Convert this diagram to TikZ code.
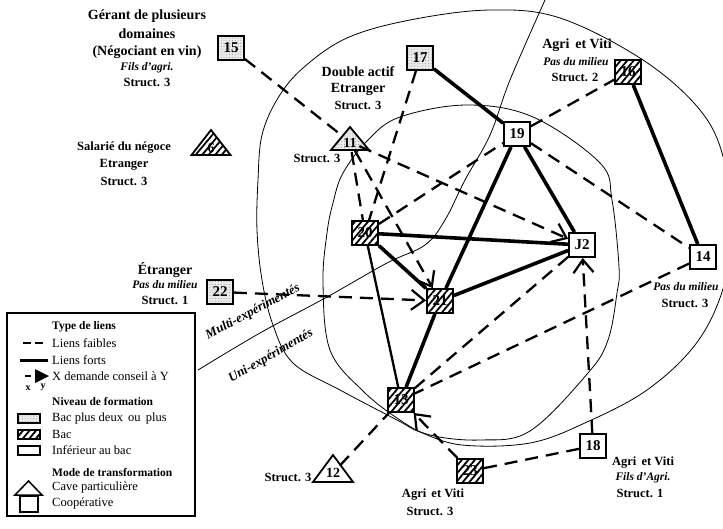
\documentclass[tikz,border=0pt]{standalone}
\usepackage{fontspec}
\setmainfont{Liberation Serif}
\usetikzlibrary{arrows.meta,patterns.meta}
\tikzset{
  sq/.style={draw, line width=1.8pt, minimum width=26pt, minimum height=24pt, inner sep=0pt,
    font=\bfseries\fontsize{15}{15}\selectfont},
  plain/.style={fill=white},
  dotf/.style={preaction={fill=black!8}, pattern={Dots[radius=0.45pt,distance=2.8pt]}, pattern color=black!50},
  hatf/.style={preaction={fill=white}, pattern={Lines[angle=50,distance=5pt,line width=1.8pt]}},
  trib/.style={circle, minimum size=20pt, inner sep=0pt},
  tridraw/.style={line width=1.8pt, line join=miter},
  trinum/.style={font=\bfseries\fontsize{14}{14}\selectfont, inner sep=0pt},
  weak/.style={line width=2.3pt, dash pattern=on 13pt off 8pt},
  strong/.style={line width=3.6pt},
  medium/.style={line width=2.3pt},
  tip/.style={-{Straight Barb[length=13pt,width=20pt,line width=2.2pt]}},
  ring/.style={line width=0.8pt},
  lbig/.style={font=\bfseries\fontsize{14}{14}\selectfont, inner sep=0pt},
  lmed/.style={font=\bfseries\fontsize{12.5}{12.5}\selectfont, inner sep=0pt},
  lit/.style={font=\bfseries\itshape\fontsize{11.5}{11.5}\selectfont, inner sep=0pt},
  ldiv/.style={font=\bfseries\itshape\fontsize{13}{13}\selectfont, inner sep=0pt},
  legh/.style={anchor=west, font=\bfseries\fontsize{11.5}{11.5}\selectfont, inner sep=0pt},
  legi/.style={anchor=west, font=\fontsize{12.5}{12.5}\selectfont, inner sep=0pt},
}
\begin{document}
\begin{tikzpicture}[x=1pt, y=-1pt]
\useasboundingbox (0,0) rectangle (723,528);
\fill[white] (0,0) rectangle (723,528);

% ---- rings and divider ----
\draw[ring] plot[smooth cycle, tension=0.6] coordinates {(490,10) (560,18) (643,60) (700,110) (724,160) (732,230) (722,292) (695,345) (647,390) (587,422) (530,443) (462,445) (420,432) (397,420) (340,390) (293,363) (273,325) (262,280) (257,230) (258,180) (262,135) (278,98) (303,68) (347,38) (410,20)};
\draw[ring] plot[smooth cycle, tension=0.6] coordinates {(467,105) (533,117) (600,163) (612,200) (619,267) (617,293) (608,340) (588,373) (530,431) (480,440) (430,435) (400,420) (363,391) (330,350) (323,283) (327,233) (333,203) (343,173) (368,140) (400,117)};
\draw[ring] plot[smooth, tension=0.6] coordinates {(545,0) (510,80) (490,135) (465,180) (445,220) (425,245) (387,263) (327,297) (260,333) (198,370)};
\node[ldiv, rotate=28] (multi) at (253,312) {Multi-expérimentés};
\node[ldiv, rotate=30] (uni) at (271,356) {Uni-expérimentés};

% ---- square nodes ----
\node[sq, dotf] (n15) at (231,48) {15};
\node[sq, dotf] (n17) at (420,58) {17};
\node[sq, plain] (n19) at (517,134) {19};
\node[sq, hatf] (n16) at (628,72) {16};
\node[sq, hatf] (n20) at (365,233) {20};
\node[sq, hatf] (n21) at (440,301) {21};
\node[sq, plain] (nJ2) at (582,245) {J2};
\node[sq, plain] (n14) at (703,257) {14};
\node[sq, dotf] (n22) at (220,292) {22};
\node[sq, hatf] (n13) at (401,400) {13};
\node[sq, hatf] (n23) at (470,471) {23};
\node[sq, plain] (n18) at (593,446) {18};

% ---- triangle nodes ----
\node[trib] (n11) at (350,142) {};
\draw[tridraw, dotf] ([shift={(0,-15)}]n11.center) -- ([shift={(19,8)}]n11.center) -- ([shift={(-19,8)}]n11.center) -- cycle;
\node[trinum] (t11) at ([shift={(0,1)}]n11.center) {11};
\node[trib] (n6) at (211,147) {};
\draw[tridraw, hatf] ([shift={(0,-17)}]n6.center) -- ([shift={(19.5,8)}]n6.center) -- ([shift={(-19.5,8)}]n6.center) -- cycle;
\node[trinum] (t6) at ([shift={(0,1)}]n6.center) {6};
\node[trib] (n12) at (333,473) {};
\draw[tridraw, plain] ([shift={(0,-18)}]n12.center) -- ([shift={(20,9)}]n12.center) -- ([shift={(-20,9)}]n12.center) -- cycle;
\node[trinum] (t12) at ([shift={(0,0)}]n12.center) {12};

% ---- strong links ----
\draw[strong] (n17) -- (n19);
\draw[strong] (n16) -- (n14);
\draw[strong] (n19) -- (nJ2);
\draw[strong] (n19) -- (n21);
\draw[strong] (n20) -- (nJ2);
\draw[strong] (n20) -- (n21);
\draw[strong] (n21) -- (nJ2);
\draw[strong] (n21) -- (n13);
\draw[medium] (n20) -- (n13);

% ---- weak links ----
\draw[weak] (n15) -- (n11);
\draw[weak, tip] (n11) -- (nJ2);
\draw[weak, tip] (n11) -- (n21);
\draw[weak] (n11) -- (n20);
\draw[weak] (n17) -- (n20);
\draw[weak] (n20) -- (n19);
\draw[weak] (n19) -- (n16);
\draw[weak] (n19) -- (n14);
\draw[weak, tip] (n22) -- (n21);
\draw[weak] (n14) -- (n13);
\draw[weak] (nJ2) -- (n13);
\draw[weak, tip] (n18) -- (nJ2);
\draw[weak] (n18) -- (n23);
\draw[weak, tip] (n23) -- (n13);
\draw[weak] (n12) -- (n13);

% ---- labels ----
\node[lbig] (l15a) at (147,16) {Gérant de plusieurs};
\node[lbig] (l15b) at (147,34) {domaines};
\node[lbig] (l15c) at (147,52) {(Négociant en vin)};
\node[lit]  (l15d) at (147,68) {Fils d'agri.};
\node[lmed] (l15e) at (147,82) {Struct. 3};

\node[lmed] (l6a) at (124,148) {Salarié du négoce};
\node[lmed] (l6b) at (124,165) {Etranger};
\node[lmed] (l6c) at (124,181) {Struct. 3};

\node[lbig] (l17a) at (358,72) {Double actif};
\node[lbig] (l17b) at (358,89) {Etranger};
\node[lmed] (l17c) at (358,105) {Struct. 3};

\node[lmed] (l11) at (317,158) {Struct. 3};

\node[lbig] (l16a) at (577,45) {Agri\, et Viti};
\node[lit]  (l16b) at (576,62) {Pas du milieu};
\node[lmed] (l16c) at (575,77) {Struct. 2};

\node[lit]  (l14a) at (686,287) {Pas du milieu};
\node[lmed] (l14b) at (685,303) {Struct. 3};

\node[lbig] (l22a) at (165,270) {Étranger};
\node[lit]  (l22b) at (165,285) {Pas du milieu};
\node[lmed] (l22c) at (165,300) {Struct. 1};

\node[lmed] (l12) at (288,477) {Struct. 3};

\node[lmed] (l23a) at (433,495) {Agri\, et Viti};
\node[lmed] (l23b) at (430,511) {Struct. 3};

\node[lmed] (l18a) at (643,463) {Agri\, et Viti};
\node[lit]  (l18b) at (643,478) {Fils d'Agri.};
\node[lmed] (l18c) at (640,493) {Struct. 1};

% ---- legend ----
\draw[line width=1.5pt, fill=white] (7,313) rectangle (195,516);
\node[legh] (g1) at (52,327) {Type de liens};
\draw[line width=2pt, dash pattern=on 8pt off 4pt] (23,343) -- (45,343);
\node[legi] (g2) at (52,343) {Liens faibles};
\draw[line width=3pt] (20,360) -- (48,360);
\node[legi] (g3) at (52,360) {Liens forts};
\draw[line width=2pt] (25,376) -- (31,376);
\fill (35,369) -- (49,376) -- (35,383) -- cycle;
\node[legi] (g4) at (52,376) {X demande conseil à Y};
\node[font=\bfseries\fontsize{10}{10}\selectfont, inner sep=0pt] (gx) at (28,388) {x};
\node[font=\bfseries\fontsize{10}{10}\selectfont, inner sep=0pt] (gy) at (43,387) {y};
\node[legh] (g5) at (52,402) {Niveau de formation};
\draw[line width=1.3pt, dotf] (18,414) rectangle (40,423);
\node[legi] (g6) at (52,418) {Bac plus deux\, ou\, plus};
\draw[line width=1.3pt, hatf] (18,430) rectangle (40,439);
\node[legi] (g7) at (52,434) {Bac};
\draw[line width=1.3pt] (18,446) rectangle (40,455);
\node[legi] (g8) at (52,450) {Inférieur au bac};
\node[legh] (g9) at (52,472) {Mode de transformation};
\draw[line width=1.5pt, line join=miter] (15,495) -- (28.5,481) -- (42,495) -- cycle;
\node[legi] (g10) at (52,487) {Cave particulière};
\draw[line width=1.5pt] (20,496) rectangle (38,512);
\node[legi] (g11) at (52,503) {Coopérative};
\end{tikzpicture}
\end{document}
